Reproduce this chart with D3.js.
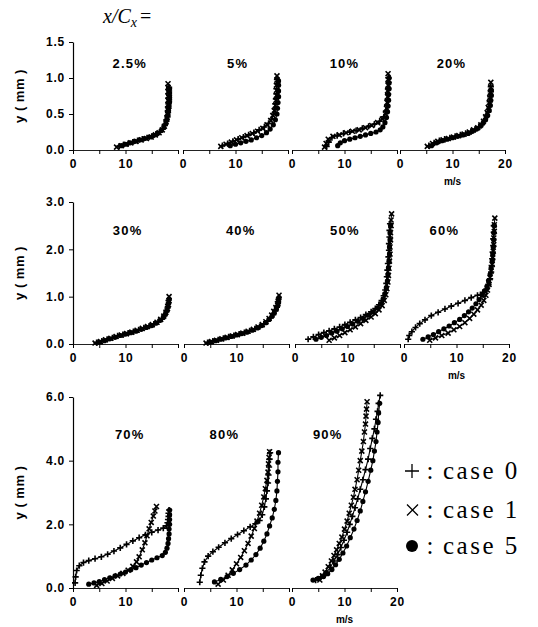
<!DOCTYPE html>
<html><head><meta charset="utf-8">
<script src="https://cdn.jsdelivr.net/npm/d3@7"></script>
<style>body{margin:0;background:#fff}</style>
</head><body><svg id="c" width="538" height="627"></svg>
<script>
// ---------------- data ----------------
const panelLabels = ["2.5%","5%","10%","20%","30%","40%","50%","60%","70%","80%","90%"];
const rowYMax = [1.5, 3.0, 6.0];
const rowYTicks = [[0,0.5,1.0,1.5],[0,1,2,3],[0,2,4,6]];
const xTicks = [0,5,10,15,20];
const xTickLabels = [0,10,20];
const legendLabels = ["case 0","case 1","case 5"];
const xUnit = "m/s";
const yTitle = "y ( mm )";

// profiles [u (m/s), y (mm)] per panel
const case0 = [
 [[8.8,0.05],[9.6,0.07],[10.5,0.09],[11.4,0.11],[12.3,0.13],[13.2,0.15],[14.1,0.17],[15,0.19],[15.8,0.22],[16.5,0.25],[17.1,0.29],[17.5,0.34],[17.8,0.4],[18,0.46],[18.1,0.52],[18.2,0.58],[18.2,0.64],[18.3,0.7],[18.3,0.76],[18.3,0.82],[18.3,0.87]],
 [[7.5,0.06],[8.5,0.09],[9.5,0.12],[10.5,0.15],[11.5,0.18],[12.5,0.21],[13.5,0.24],[14.5,0.28],[15.5,0.32],[16.3,0.37],[16.9,0.43],[17.3,0.5],[17.5,0.57],[17.6,0.64],[17.7,0.71],[17.8,0.78],[17.8,0.85],[17.9,0.92],[17.9,0.98]],
 [[6.6,0.05],[7,0.11],[7.6,0.17],[8.6,0.2],[9.8,0.23],[11,0.25],[12.2,0.27],[13.4,0.3],[14.6,0.33],[15.7,0.36],[16.7,0.4],[17.5,0.46],[17.9,0.54],[18.1,0.62],[18.2,0.7],[18.3,0.78],[18.3,0.86],[18.4,0.94],[18.4,1.0]],
 [[5.5,0.06],[6.5,0.1],[7.5,0.13],[8.5,0.15],[9.5,0.17],[10.5,0.19],[11.5,0.21],[12.5,0.23],[13.5,0.26],[14.3,0.29],[15,0.32],[15.6,0.36],[16.1,0.41],[16.5,0.47],[16.8,0.53],[17,0.6],[17.1,0.67],[17.2,0.74],[17.3,0.81],[17.3,0.88]],
 [[4.5,0.03],[5.5,0.06],[6.5,0.1],[7.5,0.13],[8.5,0.17],[9.5,0.2],[10.5,0.23],[11.5,0.26],[12.5,0.3],[13.5,0.34],[14.5,0.38],[15.4,0.42],[16.2,0.47],[16.9,0.53],[17.4,0.6],[17.8,0.68],[18,0.76],[18.1,0.84],[18.2,0.92]],
 [[4.5,0.03],[5.5,0.06],[6.5,0.09],[7.5,0.12],[8.5,0.15],[9.5,0.18],[10.5,0.21],[11.5,0.24],[12.5,0.28],[13.5,0.32],[14.4,0.37],[15.2,0.42],[15.9,0.48],[16.5,0.55],[17,0.62],[17.4,0.7],[17.7,0.78],[17.9,0.86],[18,0.94]],
 [[2.5,0.1],[3.5,0.15],[4.5,0.2],[5.5,0.24],[6.5,0.28],[7.5,0.32],[8.5,0.36],[9.5,0.41],[10.5,0.46],[11.5,0.51],[12.5,0.56],[13.5,0.62],[14.5,0.68],[15.3,0.75],[16,0.83],[16.5,0.92],[16.9,1.02],[17.2,1.14],[17.4,1.28],[17.5,1.42],[17.6,1.56],[17.7,1.7],[17.8,1.84],[17.9,1.98],[17.9,2.12],[18,2.26],[18,2.4],[18.1,2.54]],
 [[0.8,0.1],[1,0.18],[1.5,0.26],[2.2,0.35],[3,0.43],[4,0.51],[5.2,0.6],[6.5,0.67],[7.8,0.74],[9,0.8],[10.3,0.86],[11.6,0.92],[12.8,0.98],[14,1.03],[15,1.09],[15.7,1.16],[16.1,1.26],[16.4,1.38],[16.6,1.52],[16.7,1.66],[16.8,1.8],[16.9,1.94],[17,2.08],[17,2.22],[17.1,2.36],[17.1,2.5]],
 [[0.4,0.16],[0.5,0.35],[0.7,0.55],[1.2,0.7],[2,0.8],[3,0.86],[4.2,0.92],[5.4,0.98],[6.6,1.06],[7.8,1.16],[9,1.26],[10.2,1.37],[11.4,1.48],[12.6,1.58],[13.8,1.67],[15,1.75],[16.2,1.82],[17.2,1.88],[17.8,1.95],[18,2.05],[18.1,2.15],[18.2,2.25],[18.2,2.35],[18.3,2.45]],
 [[3,0.18],[3.2,0.4],[3.5,0.62],[3.9,0.82],[4.6,1],[5.5,1.14],[6.6,1.28],[7.8,1.42],[9,1.55],[10.2,1.68],[11.4,1.8],[12.6,1.92],[13.6,2.02],[14.4,2.12],[14.9,2.3],[15.3,2.55],[15.6,2.8],[15.8,3.05],[16,3.3],[16.1,3.55],[16.2,3.8],[16.3,4.05],[16.4,4.25]],
 [[4.5,0.25],[5.5,0.35],[6.5,0.47],[7.3,0.65],[8,0.85],[8.7,1.05],[9.3,1.27],[9.9,1.5],[10.5,1.75],[11,2.0],[11.5,2.25],[12,2.52],[12.5,2.8],[13,3.1],[13.5,3.4],[14,3.72],[14.5,4.05],[14.9,4.38],[15.3,4.7],[15.7,5.0],[16,5.3],[16.3,5.55],[16.5,5.8],[16.8,6.05]]
];
const case1 = [
 [[8.3,0.04],[9.2,0.06],[10.1,0.08],[11,0.1],[12,0.12],[13,0.14],[14,0.16],[14.9,0.18],[15.7,0.21],[16.4,0.24],[17,0.28],[17.4,0.33],[17.7,0.39],[17.9,0.45],[18,0.51],[18,0.57],[18.1,0.63],[18.1,0.69],[18.1,0.75],[18.1,0.81],[18.1,0.87],[18.1,0.92]],
 [[7.2,0.05],[8.2,0.08],[9.2,0.11],[10.2,0.14],[11.2,0.17],[12.2,0.2],[13.2,0.23],[14.2,0.26],[15.2,0.3],[16,0.35],[16.7,0.41],[17.1,0.48],[17.4,0.55],[17.6,0.62],[17.7,0.69],[17.8,0.76],[17.8,0.83],[17.8,0.9],[17.9,0.97],[17.9,1.03]],
 [[6.2,0.04],[6.5,0.09],[6.9,0.15],[7.8,0.19],[9,0.21],[10.3,0.24],[11.5,0.26],[12.8,0.28],[14,0.31],[15.2,0.34],[16.3,0.38],[17.2,0.43],[17.8,0.5],[18,0.58],[18.1,0.66],[18.2,0.74],[18.2,0.82],[18.3,0.9],[18.3,0.98],[18.3,1.06]],
 [[5.2,0.05],[6.2,0.09],[7.2,0.12],[8.2,0.14],[9.2,0.16],[10.2,0.18],[11.2,0.2],[12.2,0.22],[13.2,0.25],[14,0.28],[14.8,0.31],[15.4,0.35],[15.9,0.4],[16.3,0.46],[16.6,0.52],[16.8,0.59],[17,0.66],[17.1,0.73],[17.2,0.8],[17.3,0.87],[17.3,0.94]],
 [[4.2,0.02],[5.2,0.05],[6.2,0.09],[7.2,0.12],[8.2,0.16],[9.2,0.19],[10.2,0.22],[11.2,0.25],[12.2,0.29],[13.2,0.33],[14.2,0.37],[15.1,0.41],[16,0.46],[16.7,0.52],[17.3,0.59],[17.7,0.67],[18,0.75],[18.2,0.83],[18.3,0.91],[18.3,1.0]],
 [[4.2,0.02],[5.2,0.05],[6.2,0.08],[7.2,0.11],[8.2,0.14],[9.2,0.17],[10.2,0.2],[11.2,0.23],[12.2,0.27],[13.2,0.31],[14.1,0.36],[14.9,0.41],[15.6,0.47],[16.2,0.54],[16.7,0.61],[17.1,0.69],[17.5,0.77],[17.8,0.85],[18,0.93],[18.1,1.03]],
 [[6.5,0.08],[7.5,0.13],[8.5,0.18],[9.5,0.24],[10.5,0.3],[11.5,0.36],[12.5,0.43],[13.5,0.5],[14.5,0.57],[15.3,0.64],[16,0.72],[16.6,0.81],[17,0.92],[17.3,1.04],[17.5,1.17],[17.7,1.31],[17.8,1.45],[17.9,1.6],[18,1.75],[18.1,1.9],[18.1,2.05],[18.2,2.2],[18.2,2.35],[18.3,2.5],[18.3,2.62],[18.4,2.75]],
 [[4.9,0.08],[6,0.13],[7.2,0.18],[8.4,0.23],[9.5,0.3],[10.6,0.37],[11.6,0.45],[12.5,0.54],[13.3,0.63],[14,0.72],[14.7,0.82],[15.2,0.92],[15.6,1.03],[15.9,1.14],[16.2,1.26],[16.4,1.4],[16.6,1.54],[16.8,1.68],[16.9,1.82],[17,1.96],[17.1,2.1],[17.1,2.24],[17.2,2.38],[17.2,2.52],[17.3,2.66]],
 [[4.5,0.08],[5.5,0.14],[6.5,0.22],[7.5,0.3],[8.5,0.38],[9.5,0.46],[10.5,0.56],[11.4,0.68],[12.1,0.82],[12.6,0.98],[13.2,1.2],[13.7,1.42],[14.1,1.64],[14.5,1.86],[14.9,2.06],[15.3,2.26],[15.6,2.42],[15.9,2.56]],
 [[6.5,0.12],[7.5,0.25],[8.4,0.4],[9.2,0.57],[10,0.76],[10.8,0.96],[11.5,1.17],[12.2,1.4],[12.8,1.63],[13.4,1.87],[13.9,2.1],[14.4,2.35],[14.8,2.6],[15.2,2.86],[15.5,3.12],[15.8,3.38],[16,3.64],[16.1,3.9],[16.2,4.1],[16.3,4.28]],
 [[5.3,0.25],[5.8,0.38],[6.3,0.5],[6.9,0.67],[7.5,0.85],[8,1.02],[8.5,1.2],[9,1.4],[9.5,1.6],[10,1.85],[10.5,2.1],[10.9,2.35],[11.3,2.6],[11.7,2.85],[12,3.1],[12.4,3.4],[12.7,3.7],[13,4.0],[13.3,4.3],[13.6,4.6],[13.8,4.9],[14,5.15],[14.1,5.4],[14.2,5.62],[14.3,5.85]]
];
const case5 = [
 [[9.2,0.06],[10,0.08],[10.9,0.1],[11.8,0.12],[12.7,0.14],[13.6,0.16],[14.5,0.18],[15.3,0.2],[16.1,0.23],[16.8,0.27],[17.3,0.32],[17.7,0.37],[17.9,0.43],[18.1,0.49],[18.2,0.55],[18.3,0.61],[18.4,0.67],[18.4,0.73],[18.4,0.79],[18.4,0.85]],
 [[9,0.06],[10,0.08],[11,0.1],[12,0.12],[13,0.14],[14,0.17],[15,0.2],[15.9,0.24],[16.6,0.29],[17.2,0.35],[17.6,0.42],[17.9,0.5],[18,0.58],[18.1,0.66],[18.2,0.74],[18.2,0.82],[18.2,0.9],[18.2,0.96]],
 [[8.7,0.06],[9.2,0.1],[10,0.13],[11,0.15],[12,0.17],[13,0.19],[14,0.21],[15,0.23],[16,0.25],[16.8,0.28],[17.3,0.32],[17.7,0.38],[18,0.45],[18.2,0.53],[18.3,0.61],[18.4,0.69],[18.4,0.77],[18.5,0.85],[18.5,0.93],[18.5,1.0]],
 [[6,0.06],[7,0.1],[8,0.13],[9,0.15],[10,0.17],[11,0.19],[12,0.21],[13,0.23],[13.8,0.26],[14.6,0.29],[15.3,0.33],[15.8,0.37],[16.3,0.42],[16.7,0.48],[17,0.55],[17.2,0.62],[17.3,0.69],[17.4,0.76],[17.4,0.83]],
 [[5,0.04],[6,0.07],[7,0.11],[8,0.14],[9,0.18],[10,0.21],[11,0.24],[12,0.27],[13,0.31],[14,0.35],[15,0.39],[15.8,0.44],[16.6,0.5],[17.2,0.56],[17.6,0.63],[17.9,0.71],[18.1,0.79],[18.2,0.87],[18.3,0.95]],
 [[5,0.04],[6,0.07],[7,0.1],[8,0.13],[9,0.16],[10,0.19],[11,0.22],[12,0.25],[13,0.29],[14,0.34],[14.8,0.39],[15.6,0.45],[16.2,0.52],[16.8,0.59],[17.2,0.66],[17.6,0.74],[17.9,0.82],[18,0.9],[18.1,0.98]],
 [[4,0.1],[5,0.14],[6,0.18],[7,0.23],[8,0.27],[9,0.32],[10,0.37],[11,0.42],[12,0.48],[13,0.54],[14,0.61],[14.9,0.68],[15.7,0.76],[16.3,0.85],[16.8,0.95],[17.1,1.06],[17.4,1.19],[17.6,1.33],[17.7,1.47],[17.8,1.61],[17.9,1.75],[18,1.9],[18,2.05],[18.1,2.2],[18.1,2.35],[18.2,2.5]],
 [[3.6,0.1],[4.6,0.15],[5.6,0.2],[6.6,0.26],[7.6,0.32],[8.6,0.38],[9.6,0.45],[10.6,0.52],[11.5,0.6],[12.3,0.68],[13,0.76],[13.7,0.85],[14.3,0.94],[14.9,1.03],[15.4,1.12],[15.8,1.22],[16.1,1.34],[16.4,1.47],[16.6,1.61],[16.8,1.75],[16.9,1.9],[17,2.05],[17.1,2.2],[17.1,2.35],[17.2,2.5]],
 [[3,0.12],[4,0.16],[5,0.2],[6,0.26],[7,0.32],[8,0.38],[9,0.44],[10,0.5],[11,0.57],[12,0.64],[13,0.72],[14,0.8],[15,0.88],[16,0.95],[17,1.02],[17.6,1.12],[17.9,1.25],[18.1,1.4],[18.2,1.55],[18.3,1.7],[18.3,1.85],[18.4,2],[18.4,2.15],[18.4,2.3],[18.4,2.45]],
 [[5.8,0.19],[7,0.27],[8.2,0.36],[9.4,0.46],[10.6,0.58],[11.8,0.72],[12.8,0.88],[13.7,1.05],[14.5,1.25],[15.2,1.47],[15.8,1.7],[16.3,1.95],[16.8,2.2],[17.2,2.47],[17.5,2.75],[17.7,3.05],[17.8,3.35],[17.9,3.65],[17.9,3.95],[18,4.25]],
 [[4,0.25],[5,0.3],[6,0.36],[6.8,0.45],[7.6,0.58],[8.3,0.73],[9,0.9],[9.7,1.1],[10.4,1.32],[11.1,1.58],[11.8,1.85],[12.4,2.12],[13,2.42],[13.5,2.72],[14,3.02],[14.5,3.35],[15,3.7],[15.4,4.0],[15.7,4.3],[16,4.6],[16.2,4.9],[16.4,5.2],[16.5,5.5],[16.7,5.8]]
];
const series = [case0, case1, case5];

// ---------------- layout ----------------
const svg = d3.select("#c");
const rows = [
  {top:42,  bottom:150, x0:[73,183,292,400]},
  {top:202, bottom:344, x0:[73,184,295,404]},
  {top:397, bottom:588, x0:[73,184,292]}
];
const panelW = 105;
const labelU = [10.8,10.4,10,9.8, 10.4,10.8,9.5,7.7, 10.8,7.7,6.8];
const labelYFrac = 0.805;
const sans = "'Liberation Sans', Arial, sans-serif";
const serif = "'Liberation Serif', 'Times New Roman', serif";

function markerPath(k, s) {
  if (k === 0) return `M${-s},0H${s}M0,${-s}V${s}`;
  const t = s*0.8; return `M${-t},${-t}L${t},${t}M${-t},${t}L${t},${-t}`;
}

let idx = 0;
rows.forEach((row, r) => {
  const y = d3.scaleLinear().domain([0, rowYMax[r]]).range([row.bottom, row.top]);
  const ya = svg.append("g").attr("transform", `translate(${row.x0[0]},0)`)
    .call(d3.axisLeft(y).tickValues(rowYTicks[r]).tickSize(4).tickSizeOuter(0).tickFormat(d3.format(".1f")));
  ya.select(".domain").attr("stroke", "#000").attr("stroke-width", 1.2);
  ya.selectAll("text").attr("font-family", sans).attr("font-weight", "bold").attr("font-size", 12).attr("letter-spacing", 0.8).attr("fill", "#000").attr("dx", -1);
  svg.append("text").attr("transform", `translate(24,${(row.top+row.bottom)/2}) rotate(-90)`)
    .attr("text-anchor","middle").attr("font-family", sans).attr("font-weight","bold").attr("font-size",13)
    .attr("letter-spacing", 0.5).text(yTitle);

  row.x0.forEach((x0, j) => {
    const last = j === row.x0.length - 1;
    const x = d3.scaleLinear().domain([0, 20]).range([x0, x0 + panelW]);
    const xa = svg.append("g").attr("transform", `translate(0,${row.bottom})`)
      .call(d3.axisBottom(x).tickValues(xTicks).tickSize(4).tickSizeOuter(0)
        .tickFormat(d => (xTickLabels.includes(d) && (d < 20 || last)) ? d : ""));
    xa.select(".domain").attr("stroke", "#222").attr("stroke-width", 1);
    xa.selectAll("text").attr("font-family", sans).attr("font-weight", "bold").attr("font-size", 12).attr("letter-spacing", 0.8).attr("fill", "#000").attr("dy", "0.95em");
    if (last) {
      svg.append("text").attr("x", x(10)).attr("y", row.bottom + 35).attr("text-anchor","middle")
        .attr("font-family", sans).attr("font-weight","bold").attr("font-size",10).text(xUnit);
    }
    svg.append("text").attr("x", x(labelU[idx])).attr("y", y(rowYMax[r]*labelYFrac) + 5)
      .attr("text-anchor","middle").attr("font-family", sans).attr("font-weight","bold").attr("font-size",13)
      .attr("letter-spacing", 1.2).text(panelLabels[idx]);

    const line = d3.line().x(d => x(d[0])).y(d => y(d[1]));
    series.forEach((cs, k) => {
      const pts = cs[idx];
      svg.append("path").attr("d", line(pts)).attr("fill","none").attr("stroke","#000").attr("stroke-width",1.1);
      const g = svg.append("g");
      if (k === 2) {
        g.selectAll("circle").data(pts).join("circle").attr("cx", d => x(d[0])).attr("cy", d => y(d[1])).attr("r", 2.6).attr("fill","#000");
      } else {
        g.selectAll("path").data(pts).join("path").attr("d", markerPath(k, 3.1))
          .attr("transform", d => `translate(${x(d[0])},${y(d[1])})`).attr("stroke","#000").attr("stroke-width",1.6).attr("fill","none");
      }
    });
    idx++;
  });
});

// title
const t = svg.append("text").attr("x", 103).attr("y", 23).attr("font-family", serif).attr("font-size", 20);
t.append("tspan").attr("font-style","italic").text("x/C");
t.append("tspan").attr("font-style","italic").attr("font-size", 14).attr("dy", 4).text("x");
t.append("tspan").attr("dy", -4).attr("dx", 3).text("=");

// legend
const legY = [471, 510, 546];
legendLabels.forEach((lab, k) => {
  const cy = legY[k];
  if (k === 0) svg.append("path").attr("d", `M405,${cy}H419M412,${cy-7}V${cy+7}`).attr("stroke","#000").attr("stroke-width",1.3);
  else if (k === 1) svg.append("path").attr("d", `M407,${cy-5.5}L418,${cy+5.5}M407,${cy+5.5}L418,${cy-5.5}`).attr("stroke","#000").attr("stroke-width",1.3);
  else svg.append("circle").attr("cx", 412).attr("cy", cy).attr("r", 6).attr("fill","#000");
  svg.append("text").attr("x", 430).attr("y", cy + 8).attr("text-anchor","middle").attr("font-family", serif)
    .attr("font-size", 25).text(":");
  svg.append("text").attr("x", 443).attr("y", cy + 8).attr("font-family", serif)
    .attr("font-size", 25).attr("letter-spacing", 2.5).text(lab);
});
</script></body></html>
